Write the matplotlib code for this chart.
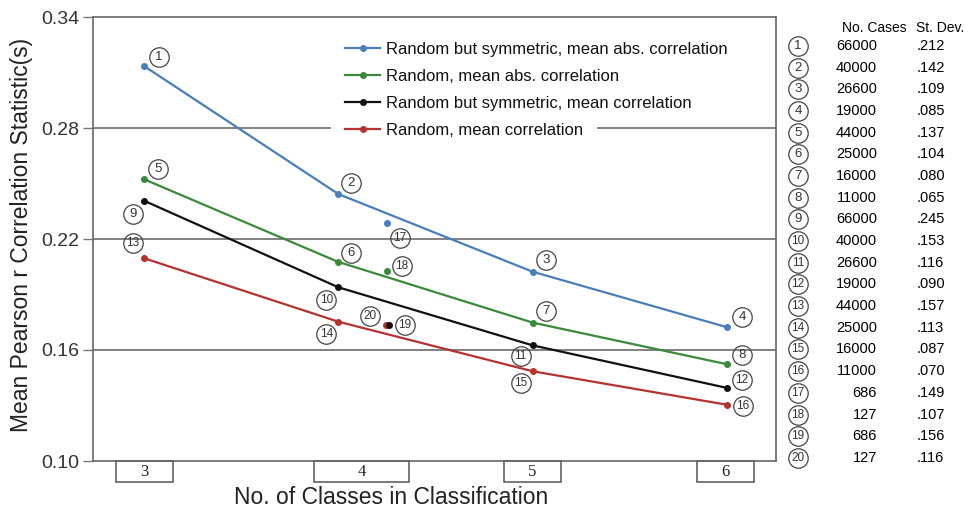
import matplotlib.pyplot as plt
from matplotlib.patches import Rectangle
from matplotlib.transforms import offset_copy, blended_transform_factory

plt.rcParams['font.family'] = ['Liberation Sans', 'DejaVu Sans']

# number of classes on the x axis
classes = [3, 4, 5, 6]

# mean correlation statistics for the four series
sym_abs = [0.3135, 0.2443, 0.2023, 0.1723]      # points 1-4
rand_abs = [0.2523, 0.2076, 0.1748, 0.1523]     # points 5-8
sym_mean = [0.2407, 0.1939, 0.1625, 0.1395]     # points 9-12
rand_mean = [0.2096, 0.1753, 0.1485, 0.1304]    # points 13-16

# the four extra runs with small samples (points 17-20)
extra_x = [4.25, 4.25, 4.26, 4.245]
extra_y = [0.2285, 0.2027, 0.1735, 0.1735]

series_names = ['Random but symmetric, mean abs. correlation',
                'Random, mean abs. correlation',
                'Random but symmetric, mean correlation',
                'Random, mean correlation']
series_colors = ['#4a7ebb', '#3a8a3a', '#111111', '#b5322e']

# side table
case_ids = list(range(1, 21))
no_cases = ['66000', '40000', '26600', '19000', '44000', '25000', '16000', '11000',
            '66000', '40000', '26600', '19000', '44000', '25000', '16000', '11000',
            '686', '127', '686', '127']
st_dev = ['.212', '.142', '.109', '.085', '.137', '.104', '.080', '.065',
          '.245', '.153', '.116', '.090', '.157', '.113', '.087', '.070',
          '.149', '.107', '.156', '.116']

# tick boxes below the axis: (label, left, right) in class units
tick_labels = ['3', '4', '5', '6']
tick_boxes = [(2.855, 3.148), (3.875, 4.364), (4.852, 5.145), (5.845, 6.14)]

# label offsets from each point, in pixels (right, down)
label_offsets = [(15, -9), (13, -11), (13, -12), (15, -10),
                 (14, -10), (13, -9), (13, -12), (15, -9),
                 (-11, 13), (-12, 13), (-12, 11), (15, -8),
                 (-11, -15), (-12, 12), (-12, 12), (16, 1),
                 (13, 15), (15, -5), (16, 0), (-16, -9)]


def circled(axis, x, y, n, transform=None):
    kw = {} if transform is None else dict(transform=transform)
    axis.plot(x, y, 'o', ms=14, mfc='none', mec='#444444', mew=0.9, zorder=4, **kw)
    axis.text(x, y, str(n), ha='center', va='center', fontsize=9.5 if n < 10 else 8.5,
              color='#333333', zorder=5, **kw)


fig = plt.figure(figsize=(9.74, 5.16), dpi=100)
ax = fig.add_axes([93 / 974, 55 / 516, 683 / 974, 444 / 516])

all_x, all_y = [], []
for vals, name, col in zip([sym_abs, rand_abs, sym_mean, rand_mean], series_names, series_colors):
    ax.plot(classes, vals, color=col, lw=1.6, marker='o', ms=4, label=name, zorder=3)
    all_x += classes
    all_y += vals

for i in [0, 1, 3, 2]:
    ax.plot(extra_x[i], extra_y[i], 'o', ms=4, color=series_colors[i], zorder=3)
all_x += extra_x
all_y += extra_y

# circled point numbers
for n, x, y, (dx, dy) in zip(case_ids, all_x, all_y, label_offsets):
    circled(ax, x, y, n, offset_copy(ax.transData, fig=fig, x=dx, y=-dy, units='dots'))

ax.set_xlim(2.7376, 6.252)
ax.set_ylim(0.10, 0.34)
ax.set_yticks([0.10, 0.16, 0.22, 0.28, 0.34])
ax.set_yticklabels(['0.10', '0.16', '0.22', '0.28', '0.34'], fontsize=14, color='#333333')
ax.tick_params(axis='y', length=7, width=1, color='#777777', pad=3)
ax.set_xticks([])

for s in ax.spines.values():
    s.set_color('#666666')
    s.set_linewidth(1.2)

# horizontal gridlines; the 0.28 line is interrupted by the legend
grid_kw = dict(color='#777777', lw=1.3, zorder=1)
ax.axhline(0.22, **grid_kw)
ax.axhline(0.16, **grid_kw)
ax.axhline(0.28, xmax=(330 - 93) / 683, **grid_kw)
ax.axhline(0.28, xmin=(598 - 93) / 683, **grid_kw)

# boxed category labels under the axis
btr = blended_transform_factory(ax.transData, ax.transAxes)
box_h = 21 / 444
for lab, (x0, x1) in zip(tick_labels, tick_boxes):
    ax.add_patch(Rectangle((x0, -box_h), x1 - x0, box_h, transform=btr, fill=False,
                           ec='#555555', lw=1.1, clip_on=False))
    ax.text((x0 + x1) / 2, -box_h / 2, lab, transform=btr, ha='center', va='center',
            fontsize=12, family='Liberation Serif', color='#222222')

ax.set_ylabel('Mean Pearson r Correlation Statistic(s)', fontsize=16.5, color='#222222')
ax.yaxis.set_label_coords(-60 / 683, 0.51)
ax.set_xlabel('No. of Classes in Classification', fontsize=16.5, color='#222222')
ax.xaxis.set_label_coords((391 - 93) / 683, -25 / 444)

leg = ax.legend(loc='upper left', bbox_to_anchor=(345 / 974, 1 - 42 / 516),
                bbox_transform=fig.transFigure, frameon=False, fontsize=12,
                borderpad=0, borderaxespad=0, handlelength=2.1, handletextpad=0.35,
                labelspacing=0.72)
for t in leg.get_texts():
    t.set_color('#111111')

# side table with sample sizes and standard deviations
tab = fig.add_axes([780 / 974, 0, 194 / 974, 1])
tab.set_xlim(0, 194)
tab.set_ylim(22.68, -1.12)
tab.axis('off')
tab.text(62, 0.17, 'No. Cases', ha='left', va='center', fontsize=10, color='#000000')
tab.text(136, 0.17, 'St. Dev.', ha='left', va='center', fontsize=10, color='#000000')
for n, nc, sd in zip(case_ids, no_cases, st_dev):
    circled(tab, 18, n, n)
    tab.text(97, n, nc, ha='right', va='center', fontsize=10.5, color='#000000')
    tab.text(137, n, sd, ha='left', va='center', fontsize=10.5, color='#000000')

fig.savefig('out.png', dpi=100)
